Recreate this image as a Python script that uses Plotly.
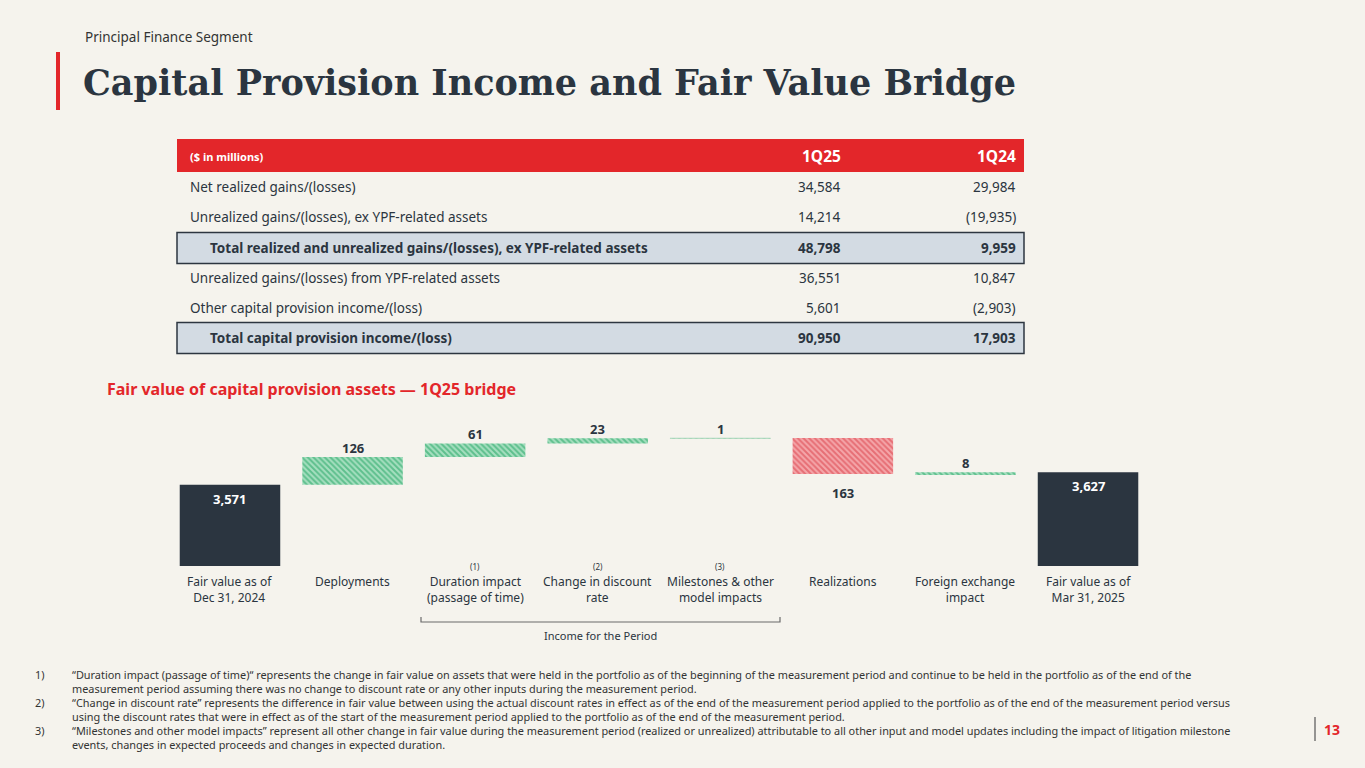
import plotly.graph_objects as go

W, H = 1365, 768
def X(px): return px / W
def Y(py): return 1 - py / H

BG = "#f5f3ed"
DARK = "#2b3540"
RED = "#e3262a"
GREEN = "#16a05a"
GREEN_BG = "#a6dfc0"
HRED = "#d8363f"
HRED_BG = "#f4a6aa"

# ---------------- data ----------------
table_labels = [
    "Net realized gains/(losses)",
    "Unrealized gains/(losses), ex YPF-related assets",
    "Total realized and unrealized gains/(losses), ex YPF-related assets",
    "Unrealized gains/(losses) from YPF-related assets",
    "Other capital provision income/(loss)",
    "Total capital provision income/(loss)",
]
q125 = ["34,584", "14,214", "48,798", "36,551", "5,601", "90,950"]
q124 = ["29,984", "(19,935)", "9,959", "10,847", "(2,903)", "17,903"]
table_total_rows = [False, False, True, False, False, True]

categories = [
    "Fair value as of<br>Dec 31, 2024",
    "Deployments",
    "Duration impact<br>(passage of time)",
    "Change in discount<br>rate",
    "Milestones & other<br>model impacts",
    "Realizations",
    "Foreign exchange<br>impact",
    "Fair value as of<br>Mar 31, 2025",
]
values = [3571, 126, 61, 23, 1, -163, 8, 3627]
measures = ["total", "relative", "relative", "relative", "relative", "relative", "relative", "total"]
footnote_refs = ["", "", "(1)", "(2)", "(3)", "", "", ""]

footnotes = [
    ("1)", "“Duration impact (passage of time)“ represents the change in fair value on assets that were held in the portfolio as of the beginning of the measurement period and continue to be held in the portfolio as of the end of the<br>measurement period assuming there was no change to discount rate or any other inputs during the measurement period."),
    ("2)", "“Change in discount rate” represents the difference in fair value between using the actual discount rates in effect as of the end of the measurement period applied to the portfolio as of the end of the measurement period versus<br>using the discount rates that were in effect as of the start of the measurement period applied to the portfolio as of the end of the measurement period."),
    ("3)", "“Milestones and other model impacts” represent all other change in fair value during the measurement period (realized or unrealized) attributable to all other input and model updates including the impact of litigation milestone<br>events, changes in expected proceeds and changes in expected duration."),
]

# ---------------- waterfall geometry ----------------
bases, heights = [], []
running = 0
for v, m in zip(values, measures):
    if m == "total":
        bases.append(0)
        heights.append(v)
        running = v
    else:
        if v >= 0:
            bases.append(running)
            heights.append(v)
        else:
            bases.append(running + v)
            heights.append(-v)
        running += v

xs = list(range(len(categories)))
fig = go.Figure()

tot_idx = [i for i, m in enumerate(measures) if m == "total"]
inc_idx = [i for i, (m, v) in enumerate(zip(measures, values)) if m != "total" and v >= 0]
dec_idx = [i for i, (m, v) in enumerate(zip(measures, values)) if m != "total" and v < 0]

fig.add_trace(go.Bar(
    x=[xs[i] for i in tot_idx], y=[heights[i] for i in tot_idx], base=[bases[i] for i in tot_idx],
    width=0.82, marker=dict(color=DARK, line=dict(width=0)), hoverinfo="skip", showlegend=False))
fig.add_trace(go.Bar(
    x=[xs[i] for i in inc_idx], y=[heights[i] for i in inc_idx], base=[bases[i] for i in inc_idx],
    width=0.82,
    marker=dict(color=GREEN_BG,
                line=dict(width=[1 if values[i] < 3 else 0 for i in inc_idx],
                          color=["rgba(22,160,90,0.15)" if values[i] < 3 else GREEN for i in inc_idx])),
    marker_pattern=dict(shape="\\", fgcolor=GREEN, bgcolor=GREEN_BG, size=4, solidity=0.5),
    hoverinfo="skip", showlegend=False))
fig.add_trace(go.Bar(
    x=[xs[i] for i in dec_idx], y=[heights[i] for i in dec_idx], base=[bases[i] for i in dec_idx],
    width=0.82, marker=dict(color=HRED_BG, line=dict(width=0)),
    marker_pattern=dict(shape="\\", fgcolor=HRED, bgcolor=HRED_BG, size=4, solidity=0.5),
    hoverinfo="skip", showlegend=False))

ann = []
def A(x, y, text, size, color, xanchor="center", yanchor="middle", xref="paper", yref="paper", bold=False, **kw):
    ann.append(dict(x=x, y=y, xref=xref, yref=yref, text=text, showarrow=False, xanchor=xanchor, yanchor=yanchor,
                    font=dict(family="Noto Sans", size=size, color=color, weight="bold" if bold else "normal"), **kw))

# value labels
for i, v in enumerate(values):
    if measures[i] == "total":
        A(xs[i], v, f"{v:,}", 13, "white", yanchor="top", xref="x", yref="y", bold=True, yshift=-3)
    elif v >= 0:
        A(xs[i], bases[i] + heights[i], f"{v:,}", 13, DARK, yanchor="bottom", xref="x", yref="y", bold=True, yshift=-2)
    else:
        A(xs[i], bases[i], f"{-v:,}", 13, DARK, yanchor="top", xref="x", yref="y", bold=True, yshift=-8)
# category labels
for i, c in enumerate(categories):
    A(xs[i], Y(571), c, 12, DARK, yanchor="top", xref="x")
    if footnote_refs[i]:
        A(xs[i], Y(566), footnote_refs[i], 8, DARK, xref="x")

# bracket
shapes = []
shapes.append(dict(type="path", xref="paper", yref="paper",
                   path=f"M {X(421)},{Y(617)} L {X(421)},{Y(622)} L {X(780)},{Y(622)} L {X(780)},{Y(617)}",
                   line=dict(color="#6b6b6b", width=1.2)))
A(X(600), Y(635), "Income for the Period", 11, DARK)

# ---------------- header ----------------
shapes.append(dict(type="rect", xref="paper", yref="paper", x0=X(56), x1=X(60), y0=Y(110), y1=Y(52),
                   fillcolor=RED, line=dict(width=0)))
A(X(83), Y(37), "Principal Finance Segment", 13.5, "#333333", xanchor="left")
ann.append(dict(x=X(81), y=Y(82), xref="paper", yref="paper", text="<b>Capital Provision Income and Fair Value Bridge</b>",
                showarrow=False, xanchor="left", yanchor="middle", font=dict(family="DejaVu Serif", size=35, color=DARK)))

# ---------------- table ----------------
TX0, TX1 = 177, 1024
shapes.append(dict(type="rect", xref="paper", yref="paper", x0=X(TX0), x1=X(TX1), y0=Y(172), y1=Y(139),
                   fillcolor=RED, line=dict(width=0)))
A(X(188), Y(156), "($ in millions)", 11, "white", xanchor="left", bold=True)
A(X(843), Y(156), "1Q25", 15.5, "white", xanchor="right", bold=True)
A(X(1018), Y(156), "1Q24", 15.5, "white", xanchor="right", bold=True)

row_y = [187, 217, 248, 278, 308, 338]
for lab, a, b, tot, ry in zip(table_labels, q125, q124, table_total_rows, row_y):
    if tot:
        shapes.append(dict(type="rect", xref="paper", yref="paper", x0=X(TX0), x1=X(TX1), y0=Y(ry + 15.5), y1=Y(ry - 15.5),
                           fillcolor="#d3dbe3", line=dict(color="#2d3640", width=1.5)))
        lx = 208
    else:
        lx = 188
    A(X(lx), Y(ry), lab, 13.5, DARK, xanchor="left", bold=tot)
    A(X(843), Y(ry), a, 13.5, DARK, xanchor="right", bold=tot)
    A(X(1018), Y(ry), b, 13.5, DARK, xanchor="right", bold=tot)

A(X(105), Y(389), "Fair value of capital provision assets — 1Q25 bridge", 16, RED, xanchor="left", bold=True)

# ---------------- footnotes ----------------
fy = [681, 709, 737]
for (num, txt), y in zip(footnotes, fy):
    A(X(33), Y(y - 7), num, 10.9, "#333333", xanchor="left")
    A(X(70), Y(y), txt, 10.9, "#333333", xanchor="left", align="left")

# page number
shapes.append(dict(type="line", xref="paper", yref="paper", x0=X(1315), x1=X(1315), y0=Y(741), y1=Y(717),
                   line=dict(color="#555555", width=1.2)))
A(X(1322), Y(729), "13", 14, RED, xanchor="left", bold=True)

fig.update_layout(
    width=W, height=H, margin=dict(l=0, r=0, t=0, b=0),
    paper_bgcolor=BG, plot_bgcolor=BG, barmode="overlay",
    xaxis=dict(domain=[X(168.7), X(1149.3)], range=[-0.5, 7.5], visible=False, fixedrange=True),
    yaxis=dict(domain=[Y(566), Y(420)], range=[3203, 3864], visible=False, fixedrange=True),
    annotations=ann, shapes=shapes,
)
fig.write_html("out.html", config={"displayModeBar": False},
               post_script="document.body.style.margin='0';document.body.style.background='#f5f3ed';")
